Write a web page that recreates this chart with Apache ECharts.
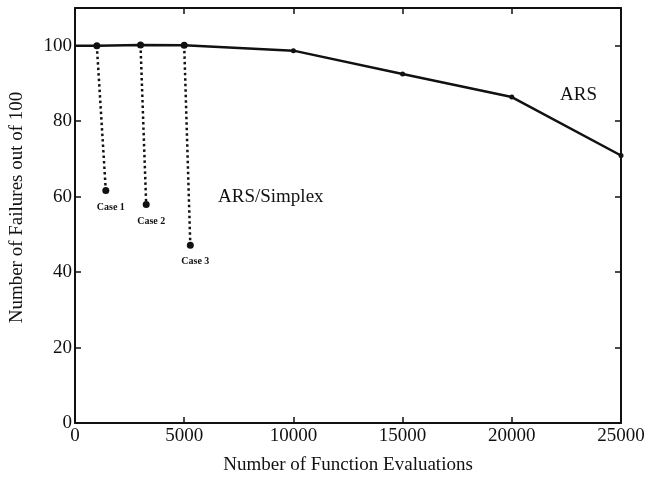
<!DOCTYPE html>
<html>
<head>
<meta charset="utf-8">
<script src="https://cdn.jsdelivr.net/npm/echarts@6/dist/echarts.min.js"></script>
<style>
html,body{margin:0;padding:0;background:#fff;}
#chart{width:645px;height:481px;}
</style>
</head>
<body>
<div id="chart"></div>
<script>
// ARS curve
var arsX = [0, 1000, 3000, 5000, 10000, 15000, 20000, 25000];
var arsY = [100, 100, 100.2, 100.1, 98.7, 92.5, 86.4, 70.9];
// ARS/Simplex branches (start on ARS curve, end point)
var caseNames = ['Case 1', 'Case 2', 'Case 3'];
var caseStartX = [1000, 3000, 5000];
var caseStartY = [100, 100.2, 100.1];
var caseEndX = [1410, 3260, 5280];
var caseEndY = [61.6, 57.9, 47.1];
// axis ticks
var xTicks = [0, 5000, 10000, 15000, 20000, 25000];
var yTicks = [0, 20, 40, 60, 80, 100];

var FONT = '"Liberation Serif", "DejaVu Serif", serif';
var INK = '#111';

var chart = echarts.init(document.getElementById('chart'), null, {renderer: 'canvas'});

var arsData = arsX.map(function (x, i) {
  var d = {value: [x, arsY[i]]};
  if (i === 0) d.symbol = 'none';
  else if (x <= 5000) d.symbolSize = 7;
  return d;
});

var series = [{
  type: 'line',
  name: 'ARS',
  data: arsData,
  symbol: 'circle',
  symbolSize: 5,
  lineStyle: {color: INK, width: 2.5},
  itemStyle: {color: INK},
  z: 3,
  animation: false
}];

caseNames.forEach(function (nm, i) {
  series.push({
    type: 'line',
    name: nm,
    data: [
      {value: [caseStartX[i], caseStartY[i]], symbol: 'none'},
      {value: [caseEndX[i], caseEndY[i]], label: {show: true, formatter: nm}}
    ],
    symbol: 'circle',
    symbolSize: 7,
    lineStyle: {color: INK, width: 2.5, type: [2.5, 3]},
    itemStyle: {color: INK},
    label: {
      position: 'bottom', distance: 8, offset: [5, 0],
      fontFamily: FONT, fontSize: 10, fontWeight: 'bold', color: INK
    },
    z: 2,
    animation: false
  });
});

var tickStyle = {inside: true, length: 6, lineStyle: {color: INK, width: 1.5}};

chart.setOption({
  backgroundColor: '#fff',
  animation: false,
  grid: {left: 75, right: 24, top: 8, bottom: 58, containLabel: false, outerBoundsMode: 'none'},
  xAxis: [{
    type: 'value', min: 0, max: 25000, interval: 5000, position: 'bottom',
    axisLine: {show: true, onZero: false, lineStyle: {color: INK, width: 2}},
    axisTick: tickStyle,
    splitLine: {show: false},
    axisLabel: {color: INK, fontFamily: FONT, fontSize: 19, margin: 4,
      customValues: xTicks, formatter: function (v) { return String(v); }},
    name: 'Number of Function Evaluations',
    nameLocation: 'middle', nameGap: 33,
    nameTextStyle: {color: INK, fontFamily: FONT, fontSize: 19}
  }, {
    type: 'value', min: 0, max: 25000, interval: 5000, position: 'top',
    axisLine: {show: true, onZero: false, lineStyle: {color: INK, width: 2}},
    axisTick: tickStyle,
    axisLabel: {show: false},
    splitLine: {show: false}
  }],
  yAxis: [{
    type: 'value', min: 0, max: 110, interval: 20, position: 'left',
    axisLine: {show: true, onZero: false, lineStyle: {color: INK, width: 2}},
    axisTick: Object.assign({customValues: yTicks}, tickStyle),
    splitLine: {show: false},
    axisLabel: {color: INK, fontFamily: FONT, fontSize: 19, margin: 3,
      customValues: yTicks},
    name: 'Number of Failures out of 100',
    nameLocation: 'middle', nameGap: 48, nameRotate: 90,
    nameTextStyle: {color: INK, fontFamily: FONT, fontSize: 19, padding: [0, 0, 0, 16]}
  }, {
    type: 'value', min: 0, max: 110, interval: 20, position: 'right',
    axisLine: {show: true, onZero: false, lineStyle: {color: INK, width: 2}},
    axisTick: Object.assign({customValues: yTicks}, tickStyle),
    axisLabel: {show: false},
    splitLine: {show: false}
  }],
  graphic: [{
    type: 'text', left: 218, top: 188,
    style: {text: 'ARS/Simplex', font: '19px ' + FONT, fill: INK}
  }, {
    type: 'text', left: 560, top: 86,
    style: {text: 'ARS', font: '19px ' + FONT, fill: INK}
  }],
  series: series
});
</script>
</body>
</html>
